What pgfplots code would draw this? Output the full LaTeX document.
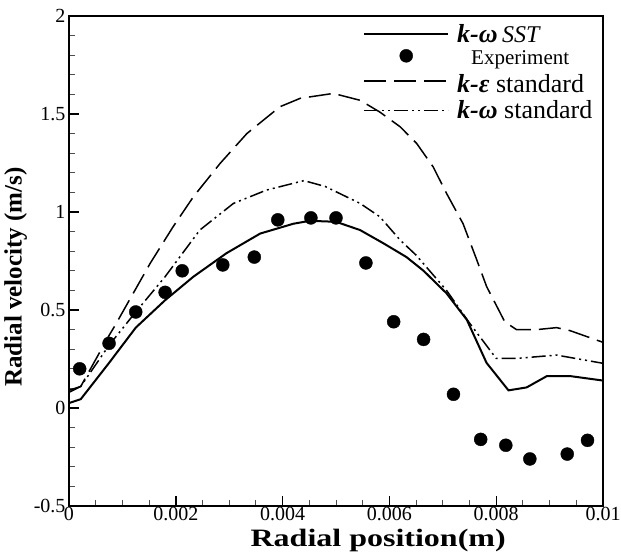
\documentclass[border=0pt]{standalone}
\usepackage{fontspec}
\setmainfont{Liberation Serif}
\newfontfamily\stretchfont[FakeStretch=1.28]{Liberation Serif}
\usepackage{pgfplots}
\pgfplotsset{compat=1.18}
\begin{document}
\begin{tikzpicture}
\begin{axis}[
  scale only axis, width=534pt, height=490pt,
  xmin=0, xmax=0.01, ymin=-0.5, ymax=2,
  xtick={0,0.002,0.004,0.006,0.008,0.01},
  xticklabels={0,0.002,0.004,0.006,0.008,0.01},
  scaled x ticks=false,
  ytick={-0.5,0,0.5,1,1.5,2},
  yticklabels={-0.5,0,0.5,1,1.5,2},
  minor x tick num=3, minor y tick num=4,
  tick align=inside, tick pos=left,
  major tick length=10pt, minor tick length=6pt,
  axis line style={line width=1.6pt},
  major tick style={line width=1.4pt, black},
  minor tick style={line width=0.9pt, black!70},
  tick label style={font=\fontsize{20}{22}\selectfont},
  xticklabel style={yshift=2pt},
  xlabel={Radial position(m)},
  ylabel={Radial velocity (m/s)},
  xlabel style={font=\stretchfont\fontsize{25}{27}\selectfont\bfseries, at={(axis description cs:0.579,0)}, anchor=north, inner sep=0pt, yshift=-23pt},
  ylabel style={font=\fontsize{25}{27}\selectfont\bfseries, at={(ticklabel cs:0.467)}},
  legend style={at={(axis description cs:0.5506,0.988)}, anchor=north west, draw=none, fill=none,
    inner sep=0pt, font=\fontsize{26}{28}\selectfont, row sep=3pt,
    /tikz/every odd column/.append style={column sep=6pt}},
  legend cell align=left,
  legend image code/.code={\draw[mark repeat=2,mark phase=2,#1] plot coordinates {(0pt,0pt) (42pt,0pt) (84pt,0pt)};},
]
\addplot[black, line width=2pt] coordinates {
(0,0.025)(0.00022,0.045)(0.00075,0.23)(0.00125,0.41)(0.0018,0.55)(0.00233,0.67)(0.00295,0.79)(0.00358,0.89)(0.0042,0.94)(0.00451,0.955)(0.0050,0.95)(0.00545,0.908)(0.00589,0.84)(0.00632,0.77)(0.00664,0.70)(0.00707,0.585)(0.00745,0.45)(0.00782,0.23)(0.00823,0.09)(0.00857,0.105)(0.00895,0.163)(0.00938,0.163)(0.01,0.14)
};
\addlegendentry{\textbf{\textit{k-ω}}\,{\fontsize{24}{26}\selectfont\textit{SST}}}
\addplot[black, only marks, mark=*, mark size=6.5pt] coordinates {
(0.0002,0.20)(0.00075,0.33)(0.00125,0.49)(0.0018,0.59)(0.00212,0.70)(0.00288,0.73)(0.00347,0.77)(0.00391,0.96)(0.00453,0.97)(0.0050,0.97)(0.00556,0.74)(0.00608,0.44)(0.00664,0.35)(0.0072,0.07)(0.00771,-0.16)(0.00818,-0.19)(0.00863,-0.26)(0.00933,-0.235)(0.00971,-0.165)
};
\addlegendentry{\raisebox{-5pt}{\hspace{14pt}\fontsize{21}{22}\selectfont Experiment}}
\addplot[black, line width=1.5pt, dash pattern=on 22pt off 8pt] coordinates {
(0,0.08)(0.00022,0.11)(0.00075,0.37)(0.00086,0.42)(0.00152,0.738)(0.00195,0.925)(0.00233,1.078)(0.00283,1.248)(0.00333,1.40)(0.00395,1.537)(0.00433,1.58)(0.00495,1.605)(0.00545,1.57)(0.00582,1.51)(0.0062,1.435)(0.00651,1.35)(0.00682,1.23)(0.00707,1.095)(0.00738,0.94)(0.00763,0.76)(0.00782,0.62)(0.00816,0.44)(0.00838,0.40)(0.00876,0.40)(0.00913,0.41)(0.00938,0.395)(0.01,0.335)
};
\addlegendentry{\rule{0pt}{24pt}\textbf{\textit{k-ε}} standard}
\addplot[black, line width=1.5pt, dash pattern=on 14pt off 4pt on 2pt off 4pt on 2pt off 4pt] coordinates {
(0,0.09)(0.00022,0.11)(0.00075,0.32)(0.00125,0.49)(0.0018,0.67)(0.00245,0.908)(0.00308,1.044)(0.0037,1.112)(0.0044,1.16)(0.0048,1.13)(0.00545,1.044)(0.00582,0.976)(0.0062,0.857)(0.0065,0.78)(0.00707,0.60)(0.00751,0.43)(0.008,0.253)(0.00838,0.253)(0.00913,0.27)(0.01,0.228)
};
\addlegendentry{\textbf{\textit{k-ω}} standard}
\end{axis}
\pgfresetboundingbox
\path[use as bounding box] ([shift={(-69pt,-46pt)}]current axis.south west) rectangle ([shift={(18pt,16pt)}]current axis.north east);
\end{tikzpicture}
\end{document}
